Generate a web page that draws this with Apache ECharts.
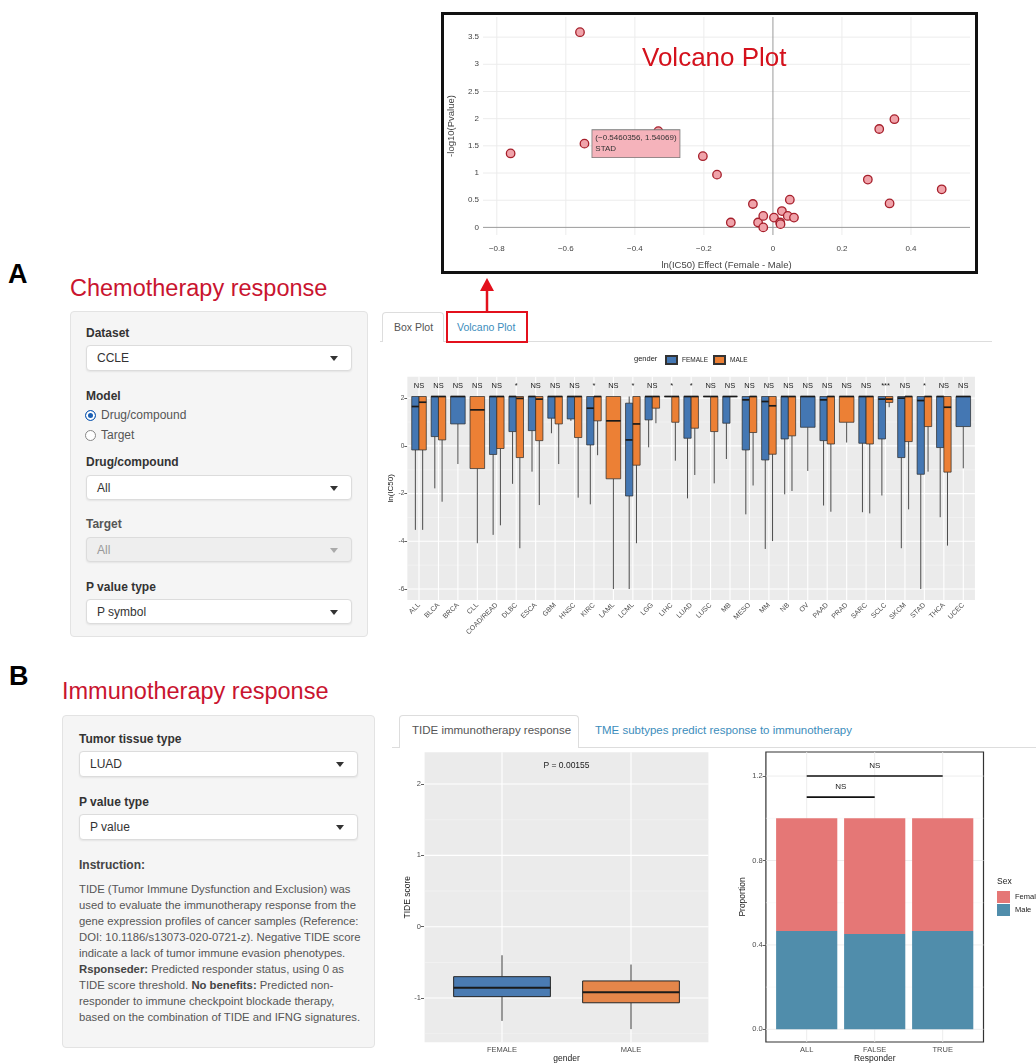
<!DOCTYPE html>
<html><head><meta charset="utf-8">
<script src="https://cdn.jsdelivr.net/npm/echarts@6/dist/echarts.min.js"></script>
<style>
html,body{margin:0;padding:0;background:#fff;}
#page{position:relative;width:1036px;height:1064px;overflow:hidden;font-family:"Liberation Sans",Arial,Helvetica,sans-serif;color:#333;}
.t{position:absolute;white-space:nowrap;line-height:1;}
.big{font-weight:bold;font-size:27px;color:#000;}
.head{font-size:23.5px;color:#c9142f;}
.panel{position:absolute;background:#f5f5f5;border:1px solid #e3e3e3;border-radius:4px;box-sizing:border-box;}
.lbl{position:absolute;font-weight:bold;font-size:12px;line-height:14px;color:#333;white-space:nowrap;}
.sel{position:absolute;background:#fff;border:1px solid #dcdcdc;border-radius:4px;box-shadow:0 1px 2px rgba(0,0,0,0.07);font-size:12px;color:#333;padding-left:9px;box-sizing:border-box;}
.sel span.txt{position:absolute;left:10px;top:50%;transform:translateY(-50%);line-height:1;}
.sel .caret{position:absolute;right:13px;top:50%;margin-top:-2px;width:0;height:0;border-left:4px solid transparent;border-right:4px solid transparent;border-top:5px solid #333;}
.sel.dis{background:#eee;color:#999;}
.sel.dis .caret{border-top-color:#aaa;}
.radio{position:absolute;font-size:12px;color:#555;line-height:13px;white-space:nowrap;}
.dot{display:inline-block;width:11px;height:11px;border:1px solid #888;border-radius:50%;vertical-align:-2px;margin-right:5px;background:#fff;box-sizing:border-box;}
.dot.on{border:1px solid #1a5fb4;box-shadow:inset 0 0 0 2px #fff;background:#1a5fb4;}
.tab{position:absolute;background:#fff;border:1px solid #ddd;border-bottom:none;border-radius:4px 4px 0 0;box-sizing:border-box;}
.para{position:absolute;font-size:11.3px;line-height:16px;color:#555;white-space:nowrap;}
.chart{position:absolute;}
</style></head>
<body><div id="page">

<div class="t big" style="left:8px;top:261px;">A</div>
<div class="t head" style="left:70px;top:277px;">Chemotherapy response</div>

<div class="panel" style="left:70px;top:311px;width:298px;height:326px;"></div>
<div class="lbl" style="left:86px;top:326px;">Dataset</div>
<div class="sel" style="left:86px;top:345px;width:266px;height:26px;"><span class="txt">CCLE</span><span class="caret"></span></div>
<div class="lbl" style="left:86px;top:389px;">Model</div>
<div class="radio" style="left:85px;top:409px;"><span class="dot on"></span>Drug/compound</div>
<div class="radio" style="left:85px;top:429px;"><span class="dot"></span>Target</div>
<div class="lbl" style="left:86px;top:455px;">Drug/compound</div>
<div class="sel" style="left:86px;top:475px;width:266px;height:25px;"><span class="txt">All</span><span class="caret"></span></div>
<div class="lbl" style="left:86px;top:517px;color:#555;">Target</div>
<div class="sel dis" style="left:86px;top:537px;width:266px;height:25px;"><span class="txt">All</span><span class="caret"></span></div>
<div class="lbl" style="left:86px;top:580px;">P value type</div>
<div class="sel" style="left:86px;top:599px;width:266px;height:25px;"><span class="txt">P symbol</span><span class="caret"></span></div>

<div class="t" style="left:380px;top:341px;width:612px;height:1px;background:#ddd;"></div>
<div class="tab" style="left:382px;top:312px;width:62px;height:30px;"></div>
<div class="t" style="left:394px;top:322px;font-size:10.5px;color:#555;">Box Plot</div>
<div class="t" style="left:457px;top:322px;font-size:10.5px;color:#3c8dbc;">Volcano Plot</div>
<div class="t" style="left:446px;top:311px;width:82px;height:32px;border:2px solid #e3101c;box-sizing:border-box;"></div>
<svg class="t" style="left:477px;top:276px;" width="20" height="36"><line x1="10" y1="13" x2="10" y2="35" stroke="#e3101c" stroke-width="2.5"/><polygon points="3,15 17,15 10,2" fill="#e3101c"/></svg>

<div class="t big" style="left:9px;top:663px;">B</div>
<div class="t head" style="left:62px;top:680px;">Immunotherapy response</div>

<div class="panel" style="left:62px;top:715px;width:313px;height:333px;"></div>
<div class="lbl" style="left:79px;top:732px;">Tumor tissue type</div>
<div class="sel" style="left:79px;top:751px;width:279px;height:26px;"><span class="txt">LUAD</span><span class="caret"></span></div>
<div class="lbl" style="left:79px;top:795px;">P value type</div>
<div class="sel" style="left:79px;top:814px;width:279px;height:26px;"><span class="txt">P value</span><span class="caret"></span></div>
<div class="lbl" style="left:79px;top:858px;color:#444;">Instruction:</div>
<div class="para" style="left:79px;top:881px;">TIDE (Tumor Immune Dysfunction and Exclusion) was<br>used to evaluate the immunotherapy response from the<br>gene expression profiles of cancer samples (Reference:<br>DOI: 10.1186/s13073-020-0721-z). Negative TIDE score<br>indicate a lack of tumor immune evasion phenotypes.<br><b style="color:#444">Rsponseder:</b> Predicted responder status, using 0 as<br>TIDE score threshold. <b style="color:#444">No benefits:</b> Predicted non-<br>responder to immune checkpoint blockade therapy,<br>based on the combination of TIDE and IFNG signatures.</div>

<div class="t" style="left:392px;top:747px;width:644px;height:1px;background:#ddd;"></div>
<div class="tab" style="left:399px;top:715px;width:180px;height:33px;"></div>
<div class="t" style="left:412px;top:725px;font-size:11.5px;color:#555;">TIDE immunotherapy response</div>
<div class="t" style="left:595px;top:725px;font-size:11.5px;color:#3c8dbc;">TME subtypes predict response to immunotherapy</div>

<div class="t" style="left:441px;top:12px;width:537px;height:262px;border:3px solid #111;box-sizing:border-box;"></div>
<div id="volc" class="chart" style="left:441px;top:12px;width:537px;height:262px;"></div>
<div id="box" class="chart" style="left:380px;top:345px;width:610px;height:320px;"></div>
<div id="tide" class="chart" style="left:380px;top:750px;width:340px;height:314px;"></div>
<div id="prop" class="chart" style="left:720px;top:750px;width:316px;height:314px;"></div>

</div>
<script>
// ---------------- data ----------------
// Volcano plot
const volcanoX = [-0.559, -0.760, -0.5460356, -0.332, -0.203, -0.162, -0.058, -0.122, -0.043, -0.028, -0.028, 0.003, 0.021, 0.022, 0.026, 0.043, 0.049, 0.061, 0.275, 0.308, 0.352, 0.338, 0.489];
const volcanoY = [3.59, 1.36, 1.54069, 1.77, 1.31, 0.97, 0.43, 0.09, 0.09, 0.21, 0.00, 0.18, 0.09, 0.06, 0.30, 0.21, 0.51, 0.18, 0.88, 1.81, 1.99, 0.44, 0.70];
const volcanoHoverIndex = 2;
const volcanoHoverName = 'STAD';
const volcanoXTicks = [-0.8, -0.6, -0.4, -0.2, 0, 0.2, 0.4];
const volcanoYTicks = [0, 0.5, 1, 1.5, 2, 2.5, 3, 3.5];

// Box plot: ln(IC50) by cancer type, [min, Q1, median, Q3, max]
const boxCats = ['ALL','BLCA','BRCA','CLL','COAD/READ','DLBC','ESCA','GBM','HNSC','KIRC','LAML','LCML','LGG','LIHC','LUAD','LUSC','MB','MESO','MM','NB','OV','PAAD','PRAD','SARC','SCLC','SKCM','STAD','THCA','UCEC'];
const boxSig = ['NS','NS','NS','NS','NS','*','NS','NS','NS','*','NS','*','NS','*','*','NS','NS','NS','NS','NS','NS','NS','NS','NS','***','NS','*','NS','NS'];
const femaleIC50 = [
  [-3.52,-0.17,1.65,2.07,2.07], [-1.78,0.39,2.07,2.07,2.07], [-0.76,0.92,2.07,2.07,2.07], null,
  [-3.73,-0.36,2.07,2.07,2.07], [-1.59,0.60,2.07,2.07,2.07], [-1.08,0.64,2.07,2.07,2.07], [0.53,1.16,2.07,2.07,2.07],
  [1.05,1.13,2.07,2.07,2.07], [-2.45,0.04,1.58,2.07,2.07], null, [-6.0,-2.10,0.25,1.79,2.07],
  [-0.06,1.09,2.07,2.07,2.07], [2.07,2.07,2.07,2.07,2.07], [-2.20,0.32,2.07,2.07,2.07], [2.07,2.07,2.07,2.07,2.07],
  [-0.55,0.95,2.07,2.07,2.07], [-2.87,-0.17,1.93,2.07,2.07], [-4.32,-0.59,1.86,2.07,2.07], [-2.03,0.29,2.07,2.07,2.07],
  [-1.05,0.78,2.07,2.07,2.07], [-2.50,0.22,1.93,2.07,2.07], null, [-2.78,0.11,2.07,2.07,2.07],
  [-2.08,0.29,1.96,2.07,2.07], [-4.29,-0.49,2.00,2.07,2.07], [-6.0,-1.19,1.90,2.07,2.07], [-2.99,-0.07,2.07,2.07,2.07],
  [-0.94,0.81,2.07,2.07,2.07]
];
const maleIC50 = [
  [-3.52,-0.17,1.83,2.07,2.07], [-2.34,0.25,2.07,2.07,2.07], null, [-4.08,-0.95,1.51,2.07,2.07],
  [-3.33,-0.11,2.07,2.07,2.07], [-4.29,-0.49,1.99,2.07,2.07], [-2.48,0.22,1.96,2.07,2.07], [-0.76,0.92,2.07,2.07,2.07],
  [-2.17,0.35,2.07,2.07,2.07], [-0.39,1.05,2.07,2.07,2.07], [-6.0,-1.38,1.05,2.07,2.07], [-4.08,-0.81,0.92,2.07,2.07],
  [0.95,1.58,2.07,2.07,2.07], [-0.62,0.99,2.07,2.07,2.07], [-1.22,0.74,2.07,2.07,2.07], [-1.57,0.60,2.07,2.07,2.07],
  [2.07,2.07,2.07,2.07,2.07], [-1.66,0.56,2.07,2.07,2.07], [-3.99,-0.35,1.68,2.07,2.07], [-1.89,0.42,2.07,2.07,2.07],
  null, [-2.76,0.08,2.07,2.07,2.07], [0.14,0.99,2.07,2.07,2.07], [-2.83,0.08,2.07,2.07,2.07],
  [1.62,1.82,1.96,2.07,2.07], [-2.66,0.18,2.07,2.07,2.07], [-1.08,0.81,2.07,2.07,2.07], [-4.18,-1.10,1.62,2.07,2.07],
  null
];
const boxYTicks = [-6, -4, -2, 0, 2];
const boxYMinor = [-5, -3, -1, 1];
const boxSigY = 2.5;

// TIDE score box plot
const tideCats = ['FEMALE', 'MALE'];
const tideFemale = [-1.32, -0.98, -0.855, -0.70, -0.40];
const tideMale = [-1.435, -1.066, -0.92, -0.76, -0.53];
const tideYTicks = [-1, 0, 1, 2];
const tideYMinor = [-1.5, -0.5, 0.5, 1.5];
const tidePText = 'P = 0.00155';
const tidePY = 2.26;

// Proportion bar chart
const propCats = ['ALL', 'FALSE', 'TRUE'];
const propMale = [0.466, 0.452, 0.466];
const propFemale = [0.534, 0.548, 0.534];
const propYTicks = [0, 0.4, 0.8, 1.2];
const propYMinor = [0.2, 0.6, 1.0];
const propBrackets = [[0, 2, 1.2, 'NS'], [0, 1, 1.1, 'NS']];

// ---------------- helpers ----------------
const FONT = '"Liberation Sans", Arial, Helvetica, sans-serif';
function seg(x1, y1, x2, y2, stroke, w) {
  return {type: 'line', shape: {x1, y1, x2, y2}, style: {stroke, lineWidth: w}};
}
function panelSeries(cfg) {
  return {
    type: 'custom', silent: true, z: 1, data: [[0, 0]], encode: {x: 0, y: 1},
    renderItem: function (params, api) {
      const cs = params.coordSys;
      let x0 = cs.x, x1 = cs.x + cs.width;
      if (cfg.cats) {
        const band = api.size([1, 0])[0];
        const c0 = api.coord([0, 0])[0];
        x0 = c0 - 0.6 * band; x1 = c0 + (cfg.cats - 1 + 0.6) * band;
      }
      const y0 = cs.y, y1 = cs.y + cs.height;
      const ch = [{type: 'rect', shape: {x: x0, y: y0, width: x1 - x0, height: y1 - y0},
        style: {fill: cfg.bg, stroke: cfg.border || null, lineWidth: cfg.border ? 1.2 : 0}}];
      (cfg.hMinor || []).forEach(v => { const y = api.coord([0, v])[1]; ch.push(seg(x0, y, x1, y, cfg.minorColor, cfg.minorWidth)); });
      (cfg.hMajor || []).forEach(v => { const y = api.coord([0, v])[1]; ch.push(seg(x0, y, x1, y, cfg.majorColor, cfg.majorWidth)); });
      (cfg.vMajor || []).forEach(v => { const x = api.coord([v, 0])[0]; ch.push(seg(x, y0, x, y1, cfg.majorColor, cfg.majorWidth)); });
      if (cfg.zero) {
        const zx = api.coord([0, 0])[0], zy = api.coord([0, 0])[1];
        ch.push(seg(zx, y0, zx, y1, cfg.zero, 1));
        ch.push(seg(x0, zy, x1, zy, cfg.zero, 1));
      }
      return {type: 'group', children: ch};
    }
  };
}
function boxData(arr, other, side) {
  const out = [];
  arr.forEach((b, i) => {
    if (!b) return;
    const s = (other && other[i]) ? side : 0;
    out.push([i, b[0], b[1], b[2], b[3], b[4], s]);
  });
  return out;
}
function boxRender(lw) {
  return function (params, api) {
    const i = api.value(0);
    const side = api.value(6);
    const band = api.size([1, 0])[0];
    const full = band * 0.75;
    const w = side === 0 ? full : full / 2;
    const cx = api.coord([i, 0])[0] + side * full / 4;
    const y = k => api.coord([i, api.value(k)])[1];
    const yMn = y(1), yQ1 = y(2), yMd = y(3), yQ3 = y(4), yMx = y(5);
    const color = api.visual('color');
    return {type: 'group', children: [
      seg(cx, yMx, cx, yQ3, '#3a3a3a', lw.wh),
      seg(cx, yQ1, cx, yMn, '#3a3a3a', lw.wh),
      {type: 'rect', shape: {x: cx - w / 2, y: yQ3, width: w, height: Math.max(yQ1 - yQ3, 0)},
        style: {fill: color, stroke: '#262626', lineWidth: lw.box}},
      seg(cx - w / 2, yMd, cx + w / 2, yMd, '#1a1a1a', lw.med)
    ]};
  };
}
const axisTxt = {fontFamily: FONT};

// ---------------- volcano ----------------
const volcData = volcanoX.map((x, i) => {
  const item = {value: [x, volcanoY[i]]};
  if (i === volcanoHoverIndex) {
    item.label = {
      show: true, position: 'right', distance: 3, align: 'left',
      formatter: '(\u2212' + Math.abs(volcanoX[i]) + ', ' + volcanoY[i] + ')\n' + volcanoHoverName,
      backgroundColor: '#f5b3bb', borderColor: '#7a7a7a', borderWidth: 0.8,
      padding: [3, 3, 2, 3], color: '#333', fontSize: 8, lineHeight: 11, fontFamily: FONT
    };
  }
  return item;
});
const volc = echarts.init(document.getElementById('volc'), null, {renderer: 'canvas'});
volc.setOption({
  animation: false,
  textStyle: axisTxt,
  title: {text: 'Volcano Plot', left: 196, top: 29, textStyle: {color: '#d4111c', fontSize: 26, fontWeight: 'normal', fontFamily: FONT}},
  grid: {left: 42, right: 8, top: 5, bottom: 39, outerBoundsMode: 'none'},
  xAxis: {type: 'value', min: -0.84, max: 0.571,
    axisLine: {show: false}, axisTick: {show: false}, splitLine: {show: false},
    axisLabel: {customValues: volcanoXTicks, fontSize: 8, color: '#444', margin: 10,
      formatter: v => (v < 0 ? '\u2212' : '') + Math.abs(v)},
    name: 'ln(IC50) Effect (Female - Male)', nameLocation: 'middle', nameGap: 25, nameMoveOverlap: false,
    nameTextStyle: {fontSize: 9.5, color: '#444'}},
  yAxis: {type: 'value', min: -0.14, max: 3.87,
    axisLine: {show: false}, axisTick: {show: false}, splitLine: {show: false},
    axisLabel: {customValues: volcanoYTicks, fontSize: 8, color: '#444', margin: 4},
    name: '-log10(Pvalue)', nameLocation: 'middle', nameGap: 27, nameMoveOverlap: false,
    nameTextStyle: {fontSize: 9.5, color: '#444'}},
  series: [
    panelSeries({bg: '#fff', hMajor: volcanoYTicks.filter(v => v !== 0), vMajor: volcanoXTicks.filter(v => v !== 0),
      majorColor: '#ececec', majorWidth: 1, zero: '#9a9a9a'}),
    {type: 'scatter', z: 3, data: volcData, symbolSize: 8.5,
      itemStyle: {color: '#f0a3aa', borderColor: '#a61f2b', borderWidth: 1.3, opacity: 1}}
  ]
});

// ---------------- box plot ----------------
const boxChart = echarts.init(document.getElementById('box'));
boxChart.setOption({
  animation: false,
  textStyle: axisTxt,
  legend: {left: 285, top: 10, padding: 0, itemWidth: 11, itemHeight: 8, itemGap: 5, icon: 'rect',
    textStyle: {fontSize: 6.5, color: '#222'},
    data: ['FEMALE', 'MALE']},
  graphic: [{type: 'text', left: 254, top: 10, style: {text: 'gender', fontSize: 7.5, fill: '#222', fontFamily: FONT}}],
  grid: {left: 29.3, right: 17, top: 31.7, bottom: 65, outerBoundsMode: 'none'},
  xAxis: {type: 'category', data: boxCats,
    axisLine: {show: false}, splitLine: {show: false},
    axisTick: {alignWithLabel: true, interval: 0, length: 3, lineStyle: {color: '#333', width: 0.8}},
    axisLabel: {interval: 0, rotate: 45, fontSize: 7, color: '#4d4d4d', margin: 4}},
  yAxis: {type: 'value', min: -6.46, max: 2.9, offset: 1.95,
    axisLine: {show: false}, splitLine: {show: false},
    axisTick: {show: true, customValues: boxYTicks, length: 3, lineStyle: {color: '#333', width: 0.8}},
    axisLabel: {customValues: boxYTicks, fontSize: 6.5, color: '#4d4d4d', margin: 3},
    name: 'ln(IC50)', nameLocation: 'middle', nameGap: 13, nameMoveOverlap: false,
    nameTextStyle: {fontSize: 8, color: '#1a1a1a'}},
  series: [
    panelSeries({cats: boxCats.length, bg: '#ebebeb', hMajor: boxYTicks, hMinor: boxYMinor,
      vMajor: boxCats.map((c, i) => i), majorColor: '#fff', majorWidth: 1.1, minorColor: '#f6f6f6', minorWidth: 0.5}),
    {type: 'custom', name: 'FEMALE', z: 2, data: boxData(femaleIC50, maleIC50, -1),
      encode: {x: 0, y: [1, 2, 3, 4, 5]}, renderItem: boxRender({wh: 0.9, box: 0.7, med: 1.7}),
      itemStyle: {color: '#4477b3', borderColor: '#333', borderWidth: 0.6}},
    {type: 'custom', name: 'MALE', z: 2, data: boxData(maleIC50, femaleIC50, 1),
      encode: {x: 0, y: [1, 2, 3, 4, 5]}, renderItem: boxRender({wh: 0.9, box: 0.7, med: 1.7}),
      itemStyle: {color: '#ec8035', borderColor: '#333', borderWidth: 0.6}},
    {type: 'custom', z: 3, silent: true, data: boxSig.map((s, i) => [i, boxSigY]), encode: {x: 0, y: 1},
      renderItem: function (params, api) {
        const p = api.coord([api.value(0), api.value(1)]);
        return {type: 'text', x: p[0], y: p[1], style: {text: boxSig[params.dataIndex], fontSize: 7.5, fill: '#1a1a1a',
          align: 'center', verticalAlign: 'middle', fontFamily: FONT}};
      }}
  ]
});

// ---------------- TIDE ----------------
const tide = echarts.init(document.getElementById('tide'));
tide.setOption({
  animation: false,
  textStyle: axisTxt,
  grid: {left: 57.5, right: 24.5, top: 2.3, bottom: 21.7, outerBoundsMode: 'none'},
  xAxis: {type: 'category', data: tideCats,
    axisLine: {show: false}, splitLine: {show: false},
    axisTick: {alignWithLabel: true, length: 3, lineStyle: {color: '#333', width: 0.8}},
    axisLabel: {fontSize: 7.5, color: '#4d4d4d', margin: 4},
    name: 'gender', nameLocation: 'middle', nameGap: 12, nameMoveOverlap: false,
    nameTextStyle: {fontSize: 8.5, color: '#1a1a1a'}},
  yAxis: {type: 'value', min: -1.62, max: 2.445, offset: 13.5,
    axisLine: {show: false}, splitLine: {show: false},
    axisTick: {show: true, customValues: tideYTicks, length: 3, lineStyle: {color: '#333', width: 0.8}},
    axisLabel: {customValues: tideYTicks, fontSize: 7.5, color: '#4d4d4d', margin: 3},
    name: 'TIDE score', nameLocation: 'middle', nameGap: 12, nameMoveOverlap: false,
    nameTextStyle: {fontSize: 8.5, color: '#1a1a1a'}},
  series: [
    panelSeries({cats: 2, bg: '#ebebeb', hMajor: tideYTicks, hMinor: tideYMinor, vMajor: [0, 1],
      majorColor: '#fff', majorWidth: 1.1, minorColor: '#f5f5f5', minorWidth: 0.6}),
    {type: 'custom', z: 2, data: boxData([tideFemale, null], null, 0), encode: {x: 0, y: [1, 2, 3, 4, 5]},
      renderItem: boxRender({wh: 1, box: 1, med: 2}), itemStyle: {color: '#4a7bb2'}},
    {type: 'custom', z: 2, data: boxData([null, tideMale], null, 0), encode: {x: 0, y: [1, 2, 3, 4, 5]},
      renderItem: boxRender({wh: 1, box: 1, med: 2}), itemStyle: {color: '#e5864a'}},
    {type: 'custom', z: 3, silent: true, data: [[0, tidePY]], encode: {x: 0, y: 1},
      renderItem: function (params, api) {
        const a = api.coord([0, tidePY]), b = api.coord([1, tidePY]);
        return {type: 'text', x: (a[0] + b[0]) / 2, y: a[1], style: {text: tidePText, fontSize: 8.5, fill: '#1a1a1a',
          align: 'center', verticalAlign: 'middle', fontFamily: FONT}};
      }}
  ]
});

// ---------------- proportion ----------------
const prop = echarts.init(document.getElementById('prop'));
prop.setOption({
  animation: false,
  textStyle: axisTxt,
  legend: {orient: 'vertical', left: 277, top: 141, padding: 0, itemWidth: 13, itemHeight: 12, itemGap: 1, icon: 'rect',
    data: ['Female', 'Male'], textStyle: {fontSize: 7.5, color: '#1a1a1a', overflow: 'none', width: 80}},
  graphic: [{type: 'text', left: 277, top: 127, style: {text: 'Sex', fontSize: 8.5, fill: '#1a1a1a', fontFamily: FONT}}],
  grid: {left: 52.7, right: 59.3, top: 2, bottom: 22, outerBoundsMode: 'none'},
  xAxis: {type: 'category', data: propCats,
    axisLine: {show: false}, splitLine: {show: false},
    axisTick: {alignWithLabel: true, length: 3, lineStyle: {color: '#333', width: 0.8}},
    axisLabel: {fontSize: 7.5, color: '#4d4d4d', margin: 4},
    name: 'Responder', nameLocation: 'middle', nameGap: 12, nameMoveOverlap: false,
    nameTextStyle: {fontSize: 8.5, color: '#1a1a1a'}},
  yAxis: {type: 'value', min: -0.06, max: 1.314, offset: 7,
    axisLine: {show: false}, splitLine: {show: false},
    axisTick: {show: true, customValues: propYTicks, length: 3, lineStyle: {color: '#333', width: 0.8}},
    axisLabel: {customValues: propYTicks, fontSize: 7.5, color: '#4d4d4d', margin: 3, formatter: v => v.toFixed(1)},
    name: 'Proportion', nameLocation: 'middle', nameGap: 18.5, nameMoveOverlap: false,
    nameTextStyle: {fontSize: 8.5, color: '#1a1a1a'}},
  series: [
    panelSeries({cats: 3, bg: '#fff', border: '#333', hMajor: propYTicks, hMinor: propYMinor, vMajor: [0, 1, 2],
      majorColor: '#ebebeb', majorWidth: 0.9, minorColor: '#f4f4f4', minorWidth: 0.5}),
    {type: 'bar', name: 'Male', stack: 'p', z: 2, data: propMale, barWidth: '90%', itemStyle: {color: '#508dab'}},
    {type: 'bar', name: 'Female', stack: 'p', z: 2, data: propFemale, barWidth: '90%', itemStyle: {color: '#e57776'}},
    {type: 'custom', z: 3, silent: true, data: propBrackets.map(b => [b[0], b[2]]), encode: {x: 0, y: 1},
      renderItem: function (params, api) {
        const b = propBrackets[params.dataIndex];
        const p1 = api.coord([b[0], b[2]]), p2 = api.coord([b[1], b[2]]);
        return {type: 'group', children: [
          seg(p1[0], p1[1], p2[0], p2[1], '#111', 1.6),
          {type: 'text', x: (p1[0] + p2[0]) / 2, y: p1[1] - 10, style: {text: b[3], fontSize: 8, fill: '#1a1a1a',
            align: 'center', verticalAlign: 'middle', fontFamily: FONT}}
        ]};
      }}
  ]
});
</script>
</body></html>
